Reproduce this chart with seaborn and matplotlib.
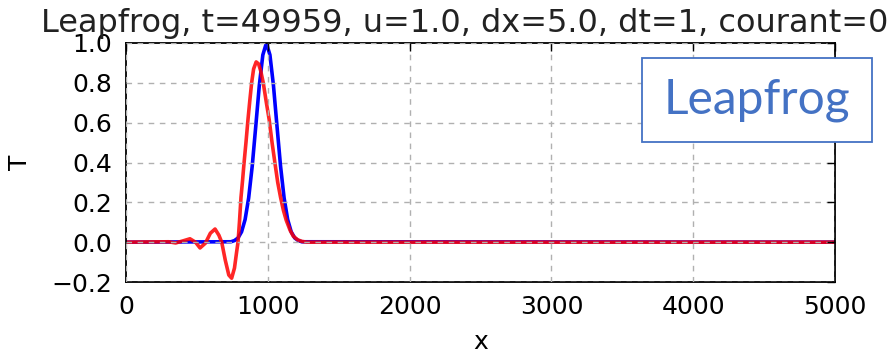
import numpy as np
import matplotlib
matplotlib.use('Agg')
import matplotlib.pyplot as plt
import seaborn as sns
from matplotlib.patches import Rectangle

# values
x_exact = [0, 740, 765, 790, 815, 840, 865, 890, 915, 940, 965, 990,
           1015, 1040, 1065, 1090, 1115, 1140, 1165, 1190, 1215, 1240, 5000]
T_exact = [0.0, 0.002, 0.008, 0.021, 0.052, 0.114, 0.222, 0.381, 0.581, 0.786, 0.94, 1.0,
           0.94, 0.786, 0.581, 0.381, 0.222, 0.114, 0.052, 0.021, 0.008, 0.002, 0.0]

x_leap = [0, 300, 350, 400, 451, 490, 522, 560, 595, 628, 655, 675, 700, 725, 745, 765,
          780, 790, 800, 811, 822, 832, 846, 860, 873, 886, 900, 918, 935, 950, 968,
          990, 1010, 1030, 1051, 1070, 1090, 1110, 1130, 1157, 1180, 1210, 1240, 1275, 5000]
T_leap = [0.0, 0.002, -0.004, 0.006, 0.017, 0.0, -0.029, -0.005, 0.045, 0.066, 0.035, 0.0,
          -0.09, -0.165, -0.181, -0.13, -0.05, 0.0, 0.1, 0.225, 0.31, 0.394, 0.5, 0.614, 0.71,
          0.8, 0.87, 0.905, 0.895, 0.86, 0.8, 0.7, 0.614, 0.5, 0.394, 0.3, 0.225, 0.16, 0.11,
          0.06, 0.03, 0.012, 0.004, 0.0, 0.0]

title = 'Leapfrog, t=49959, u=1.0, dx=5.0, dt=1, courant=0.2'

sns.set_style('white')
plt.rcParams['font.family'] = ['DejaVu Sans']
plt.rcParams['text.color'] = 'black'
plt.rcParams['axes.labelcolor'] = 'black'

W, H = 889, 357
fig = plt.figure(figsize=(W / 100, H / 100), dpi=100)
ax = fig.add_axes([126 / W, 1 - 282 / H, (835 - 126) / W, (282 - 43) / H])

sns.lineplot(x=x_exact, y=T_exact, ax=ax, color='#0000ff', lw=2.6)
sns.lineplot(x=x_leap, y=T_leap, ax=ax, color='#ff0000', lw=2.6, alpha=0.85)

ax.set_xlim(0, 5000)
ax.set_ylim(-0.2, 1.0)
ax.set_xticks(np.arange(0, 5001, 1000))
ax.set_yticks(np.arange(-0.2, 1.01, 0.2))
ax.set_axisbelow(False)
ax.grid(True, color='#b0b0b0', ls=(0, (4, 4)), lw=1.0)
for s in ax.spines.values():
    s.set_color('black')
    s.set_linewidth(1.3)
ax.tick_params(direction='in', top=True, right=True, length=6, width=1,
               labelsize=18, colors='black')
ax.tick_params(axis='x', pad=9)
ax.tick_params(axis='y', pad=10)

ax.set_title(title, fontsize=23, pad=8, color='#222222')
ax.set_xlabel('x', fontsize=18, labelpad=8)
ax.set_ylabel('T', fontsize=18, labelpad=14)

# label box on top of the figure
box = Rectangle((642 / W, 1 - 142 / H), 230 / W, 84 / H, transform=fig.transFigure,
                fc='white', ec='#4472C4', lw=1.3, zorder=10)
fig.patches.append(box)
fig.text(757 / W, 1 - 100 / H, 'Leapfrog', ha='center', va='center', fontsize=34.5,
         color='#4472C4', family=['Lato', 'DejaVu Sans'], zorder=11)

fig.savefig('out.png', dpi=100)
